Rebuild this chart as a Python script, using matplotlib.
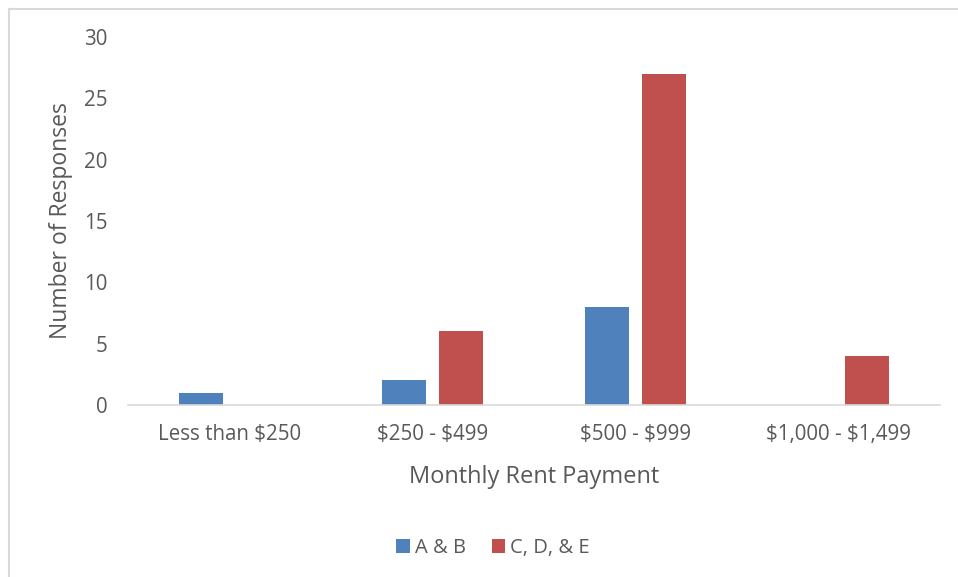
import matplotlib.pyplot as plt
import numpy as np
from matplotlib.lines import Line2D

plt.rcParams['font.family'] = ['Open Sans', 'DejaVu Sans']
plt.rcParams['text.parse_math'] = False

# 数据
categories = ['Less than $250', '$250 - $499', '$500 - $999', '$1,000 - $1,499']
ab_values = [1, 2, 8, 0]
cde_values = [0, 6, 27, 4]
series_names = ['A & B', 'C, D, & E']
y_ticks = [0, 5, 10, 15, 20, 25, 30]

text_color = '#595959'
blue = '#4F81BD'
red = '#C0504D'

fig = plt.figure(figsize=(9.58, 5.77), dpi=100)
ax = fig.add_axes([128 / 958, 1 - 405 / 577, 812 / 958, 368 / 577])

x = np.arange(len(categories))
width = 0.22
offset = 0.14
ax.bar(x - offset, ab_values, width, color=blue, label=series_names[0])
ax.bar(x + offset, cde_values, width, color=red, label=series_names[1])

ax.set_xlim(-0.5, len(categories) - 0.5)
ax.set_ylim(0, 30)
ax.set_yticks(y_ticks)
ax.set_xticks(x)
ax.set_xticklabels(categories)
ax.tick_params(axis='both', length=0, labelsize=14.8, colors=text_color)
ax.tick_params(axis='y', pad=15)
ax.tick_params(axis='x', pad=14)

for side in ['top', 'right', 'left']:
    ax.spines[side].set_visible(False)
ax.spines['bottom'].set_color('#D9D9D9')
ax.spines['bottom'].set_linewidth(1.2)

ax.set_xlabel('Monthly Rent Payment', fontsize=17, color=text_color, labelpad=14)
ax.set_ylabel('Number of Responses', fontsize=16.5, color=text_color, labelpad=8)

ax.legend(loc='center', bbox_to_anchor=(493 / 958, 1 - 548 / 577),
          bbox_transform=fig.transFigure, ncol=2, frameon=False,
          fontsize=14.5, handlelength=0.65, handleheight=0.65, handletextpad=0.25,
          columnspacing=1.3, labelcolor=text_color)

# 外框
fig.add_artist(Line2D([8.5 / 958, 8.5 / 958], [0, 1 - 8.5 / 577],
                      transform=fig.transFigure, color='#D9D9D9', lw=1.5))
fig.add_artist(Line2D([8.5 / 958, 1], [1 - 8.5 / 577, 1 - 8.5 / 577],
                      transform=fig.transFigure, color='#D9D9D9', lw=1.5))

plt.savefig('out.png', dpi=100)
plt.close()
